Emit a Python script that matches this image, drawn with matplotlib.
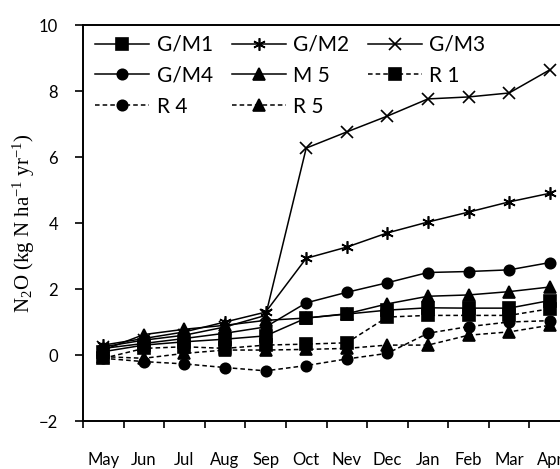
import matplotlib
matplotlib.use("Agg")
import matplotlib.pyplot as plt
import numpy as np

plt.rcParams["mathtext.fontset"] = "custom"
plt.rcParams["mathtext.rm"] = "Liberation Serif"
plt.rcParams["mathtext.it"] = "Liberation Serif:italic"
plt.rcParams["mathtext.bf"] = "Liberation Serif:bold"

months = ["May", "Jun", "Jul", "Aug", "Sep", "Oct", "Nev", "Dec", "Jan", "Feb", "Mar", "Apr"]

gm1 = [0.10, 0.30, 0.40, 0.48, 0.58, 1.12, 1.24, 1.36, 1.43, 1.42, 1.42, 1.65]
gm2 = [0.30, 0.50, 0.70, 1.00, 1.30, 2.93, 3.27, 3.70, 4.03, 4.33, 4.64, 4.90]
gm3 = [0.25, 0.45, 0.60, 0.85, 1.20, 6.27, 6.76, 7.24, 7.76, 7.82, 7.94, 8.64]
gm4 = [0.20, 0.35, 0.50, 0.66, 0.85, 1.58, 1.90, 2.19, 2.50, 2.53, 2.58, 2.80]
m5 = [0.15, 0.62, 0.78, 0.90, 1.05, 1.12, 1.25, 1.55, 1.78, 1.82, 1.92, 2.06]
r1 = [-0.10, 0.20, 0.25, 0.20, 0.30, 0.33, 0.37, 1.15, 1.20, 1.20, 1.20, 1.40]
r4 = [-0.10, -0.20, -0.27, -0.38, -0.48, -0.32, -0.12, 0.05, 0.66, 0.86, 1.00, 1.04]
r5 = [-0.05, -0.10, 0.05, 0.15, 0.15, 0.17, 0.20, 0.30, 0.30, 0.60, 0.70, 0.90]

W, H = 560, 469
fig = plt.figure(figsize=(W / 100, H / 100), dpi=100)
ax = fig.add_axes([83 / W, (H - 421) / H, 487 / W, 396 / H])

x = np.arange(len(months))
lw = 1.1
dash = (0, (3, 2))
series = [
    ("G/M1", gm1, "s", "-", 8),
    ("G/M2", gm2, (6, 2, 0), "-", 9),
    ("G/M3", gm3, "x", "-", 8),
    ("G/M4", gm4, "o", "-", 7.5),
    ("M 5", m5, "^", "-", 8),
    ("R 1", r1, "s", dash, 8),
    ("R 4", r4, "o", dash, 7.5),
    ("R 5", r5, "^", dash, 8),
]
handles = {}
for lab, vals, mk, ls, ms in series:
    h, = ax.plot(x, vals, color="black", linestyle=ls, linewidth=lw, marker=mk,
                 markersize=ms, markeredgewidth=1.2, markerfacecolor="black",
                 markeredgecolor="black", label=lab, clip_on=False)
    handles[lab] = h

ax.set_xlim(-0.5, len(months) - 0.5)
ax.set_ylim(-2, 10)
ax.set_yticks([-2, 0, 2, 4, 6, 8, 10])
ax.set_xticks(np.arange(len(months) + 1) - 0.5)
ax.set_xticklabels([])
ax.set_xticks(x, minor=True)
ax.set_xticklabels(months, minor=True, fontfamily="Lato", fontsize=12)
ax.tick_params(axis="x", which="major", direction="out", length=5, width=1.2)
ax.tick_params(axis="x", which="minor", length=0, pad=22)
ax.tick_params(axis="y", direction="out", length=6, width=1.2, pad=12,
               labelsize=12)
for t in ax.get_yticklabels():
    t.set_fontfamily("Lato")
for s in ax.spines.values():
    s.set_linewidth(1.4)

ax.set_ylabel(r"N$_2$O (kg N ha$^{\mathrm{-1}}$ yr$^{\mathrm{-1}}$)",
              fontfamily="Liberation Serif", fontsize=15, labelpad=4)
ax.yaxis.set_label_coords(-0.094, 0.5)

order = ["G/M1", "G/M4", "R 4", "G/M2", "M 5", "R 5", "G/M3", "R 1"]
leg = ax.legend([handles[k] for k in order], order, loc="upper left",
                bbox_to_anchor=(0.025, 0.975), ncol=3,
                frameon=False, prop={"family": "Lato", "size": 15},
                handlelength=2.6, handletextpad=0.35, columnspacing=0.9,
                labelspacing=0.52, borderpad=0, borderaxespad=0)

fig.savefig("out.png", dpi=100)
